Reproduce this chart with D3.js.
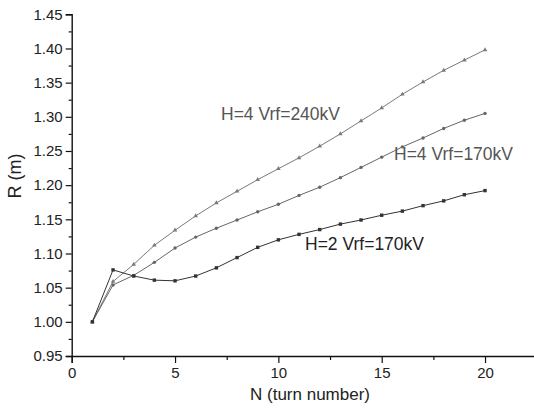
<!DOCTYPE html>
<html>
<head>
<meta charset="utf-8">
<script src="https://cdn.jsdelivr.net/npm/d3@7"></script>
<style>
  body { margin: 0; background: #fff; }
  svg { display: block; font-family: "Liberation Sans", Arial, sans-serif; }
</style>
</head>
<body>
<div class="chart"></div>
<script>
// turn numbers
const turns = [1, 2, 3, 4, 5, 6, 7, 8, 9, 10, 11, 12, 13, 14, 15, 16, 17, 18, 19, 20];

// radius R (m) per turn
const h4v240 = [1.000, 1.059, 1.084, 1.112, 1.134, 1.155, 1.174, 1.191, 1.208, 1.224,
                1.240, 1.257, 1.275, 1.294, 1.313, 1.333, 1.351, 1.368, 1.383, 1.398];
const h4v170 = [1.000, 1.054, 1.068, 1.087, 1.108, 1.124, 1.137, 1.149, 1.161, 1.172,
                1.185, 1.197, 1.211, 1.226, 1.241, 1.256, 1.269, 1.283, 1.295, 1.305];
const h2v170 = [1.000, 1.076, 1.067, 1.061, 1.060, 1.067, 1.079, 1.094, 1.109, 1.120,
                1.128, 1.135, 1.143, 1.149, 1.156, 1.162, 1.170, 1.177, 1.186, 1.192];

const xTicks = [0, 5, 10, 15, 20];
const xMinor = [2.5, 7.5, 12.5, 17.5, 22.5];
const yTicks = [0.95, 1.00, 1.05, 1.10, 1.15, 1.20, 1.25, 1.30, 1.35, 1.40, 1.45];
const yMinor = [0.975, 1.025, 1.075, 1.125, 1.175, 1.225, 1.275, 1.325, 1.375, 1.425];

const W = 534, H = 409;
const svg = d3.select(".chart").append("svg")
    .attr("width", W)
    .attr("height", H);

const x = d3.scaleLinear().domain([0, 22.5]).range([71.7, 536.7]);
const y = d3.scaleLinear().domain([0.95, 1.45]).range([356, 14.3]);

// series lines + markers
const series = [
  { name: "H=4 Vrf=240kV", values: h4v240, color: "#7a7a7a", marker: "tri" },
  { name: "H=4 Vrf=170kV", values: h4v170, color: "#666", marker: "dot" },
  { name: "H=2 Vrf=170kV", values: h2v170, color: "#333", marker: "sq" }
];

const line = d3.line()
    .x((d, i) => x(turns[i]))
    .y(d => y(d));

series.forEach(s => {
  svg.append("path")
      .datum(s.values)
      .attr("fill", "none")
      .attr("stroke", s.color)
      .attr("stroke-width", 1)
      .attr("d", line);

  const g = svg.append("g").attr("fill", s.color);
  if (s.marker === "tri") {
    g.selectAll("path").data(s.values).join("path")
        .attr("transform", (d, i) => `translate(${x(turns[i])},${y(d)})`)
        .attr("d", d3.symbol(d3.symbolTriangle, 9));
  } else if (s.marker === "dot") {
    g.selectAll("circle").data(s.values).join("circle")
        .attr("cx", (d, i) => x(turns[i]))
        .attr("cy", d => y(d))
        .attr("r", 1.7);
  } else {
    g.selectAll("rect").data(s.values).join("rect")
        .attr("x", (d, i) => x(turns[i]) - 1.7)
        .attr("y", d => y(d) - 1.7)
        .attr("width", 3.4)
        .attr("height", 3.4);
  }
});

// axes
const xAxis = svg.append("g")
    .attr("transform", `translate(0,${y(0.95)})`)
    .call(d3.axisBottom(x).tickValues(xTicks).tickSize(7).tickPadding(4).tickFormat(d3.format("d")));
svg.append("g")
    .attr("transform", `translate(0,${y(0.95)})`)
    .call(d3.axisBottom(x).tickValues(xMinor).tickSize(4).tickFormat(""))
    .call(g => g.select(".domain").remove());

const yAxis = svg.append("g")
    .attr("transform", `translate(${x(0)},0)`)
    .call(d3.axisLeft(y).tickValues(yTicks).tickSize(6).tickPadding(3).tickFormat(d3.format(".2f")));
svg.append("g")
    .attr("transform", `translate(${x(0)},0)`)
    .call(d3.axisLeft(y).tickValues(yMinor).tickSize(3).tickFormat(""))
    .call(g => g.select(".domain").remove());

svg.selectAll(".domain").attr("stroke", "#111").attr("stroke-width", 1.4);
svg.selectAll(".tick line").attr("stroke", "#111").attr("stroke-width", 1.2);
svg.selectAll(".tick text")
    .attr("font-family", "'Liberation Sans', Arial, sans-serif")
    .attr("font-size", 15)
    .attr("fill", "#222");

// axis titles
svg.append("text")
    .attr("x", 310)
    .attr("y", 400)
    .attr("text-anchor", "middle")
    .attr("font-size", 17)
    .attr("fill", "#222")
    .text("N (turn number)");

svg.append("text")
    .attr("transform", "translate(21,176) rotate(-90)")
    .attr("text-anchor", "middle")
    .attr("font-size", 18)
    .attr("fill", "#222")
    .text("R (m)");

// curve labels
svg.append("text").attr("x", 221).attr("y", 120)
    .attr("font-size", 17.5).attr("fill", "#555").text("H=4 Vrf=240kV");
svg.append("text").attr("x", 394).attr("y", 160)
    .attr("font-size", 17.5).attr("fill", "#555").text("H=4 Vrf=170kV");
svg.append("text").attr("x", 305).attr("y", 250)
    .attr("font-size", 17.5).attr("fill", "#222").text("H=2 Vrf=170kV");
</script>
</body>
</html>
